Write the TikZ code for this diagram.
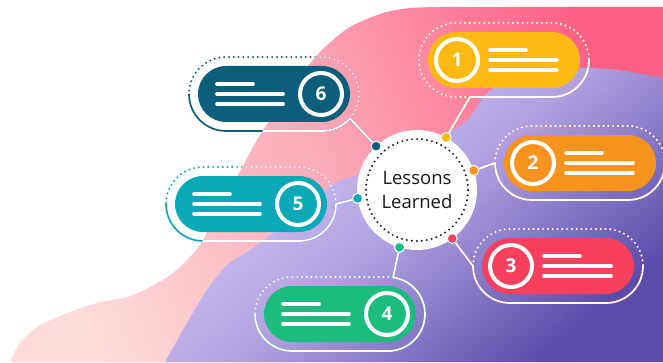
\documentclass[tikz,border=0pt]{standalone}
\usepackage{fontspec}
\setmainfont{Open Sans}
\usepackage{tikz}
\usetikzlibrary{calc,positioning,shapes.misc}

\definecolor{lessonA}{HTML}{FDB913}
\definecolor{lessonB}{HTML}{F7931E}
\definecolor{lessonC}{HTML}{F7405E}
\definecolor{lessonD}{HTML}{1CBC7F}
\definecolor{lessonE}{HTML}{0BA8B8}
\definecolor{lessonF}{HTML}{0C5E7B}
\definecolor{pinkpale}{HTML}{FDDCDB}
\definecolor{pinkmid}{HTML}{FBA9B8}
\definecolor{pinkdeep}{HTML}{FF5F86}
\definecolor{lilacpale}{HTML}{DDCCF7}
\definecolor{lilacmid}{HTML}{B1A1E1}
\definecolor{lilacdeep}{HTML}{594CAA}

% backdrop waves (also used to clip the rims)
\newcommand{\pinkwave}{plot[smooth] coordinates {(10,0) (20,19) (37,35) (67,49) (97,59) (127,65) (150,75) (173,89) (190,105) (203,122) (218,152) (232,177) (245,200) (257,222) (273,247) (290,272) (307,295) (325,315) (350,335) (383,349) (410,354) (440,355)} -- (663,355) -- (663,0) -- cycle}
\newcommand{\lilacwave}{plot[smooth] coordinates {(165,0) (187,39) (207,72) (227,97) (250,112) (290,142) (332,177) (355,186) (400,207) (440,225) (467,242) (487,269) (517,285) (567,294) (617,292) (663,284)} -- (663,0) -- cycle}

% rim: coloured on white paper, white on the waves
\newcommand{\rim}[3]{%
	\draw [#2, draw=#1] #3;
	\begin{scope}
		\clip \pinkwave;
		\draw [#2, draw=white] #3;
	\end{scope}
}

\tikzset{
	lesson/.style={
		rounded rectangle,
		fill=#1,
		minimum width=152pt,
		minimum height=56pt,
		inner sep=0pt, outer sep=0pt
	},
	numring/.style={
		circle, draw=white, line width=4pt,
		minimum size=42pt, inner sep=0pt,
		text=white, font=\fontsize{19}{19}\selectfont\bfseries
	},
	pin/.style={
		circle, fill=#1, draw=white, line width=1pt,
		minimum size=10pt, inner sep=0pt
	},
	hub/.style={
		circle, fill=white,
		minimum size=120pt, inner sep=0pt, outer sep=0pt,
		align=center, text=black!90,
		font=\fontsize{18.5}{24}\selectfont
	},
	textline/.style={white, line width=3.6pt, line cap=round},
	rimdots/.style={line width=2.2pt, line cap=round, dash pattern=on 0pt off 4.8pt},
	rimline/.style={line width=1.7pt, line join=round}
}

\begin{document}
\begin{tikzpicture}[x=1pt,y=1pt,
	hubdots/.style={black!90, line width=2.2pt, line cap=round, dash pattern=on 0pt off 5pt}]

	%%% Backdrop
	\fill [white] (0,0) rectangle (663,362);
	\useasboundingbox (0,0) rectangle (663,362);
	\shade [bottom color=pinkpale, top color=pinkdeep, middle color=pinkmid, shading angle=-70] \pinkwave;
	\shade [top color=lilacpale, bottom color=lilacdeep, middle color=lilacmid, shading angle=40] \lilacwave;

	%%% Hub
	\node at (417,172) [hub] (hub) {Lessons\\Learned};
	\draw [hubdots] (hub.center) circle [radius=51];

	%% Pins on the hub
	\node at (hub.61) [pin=lessonA] (pin1) {};
	\node at (hub.19) [pin=lessonB] (pin2) {};
	\node at (hub.-54) [pin=lessonC] (pin3) {};
	\node at (hub.253) [pin=lessonD] (pin4) {};
	\node at (hub.188) [pin=lessonE] (pin5) {};
	\node at (hub.133) [pin=lessonF] (pin6) {};

	%%% Lessons
	%% Right hand side
	\node at (504,302) [lesson=lessonA] (lesson1) {};
	\node at (580,199) [lesson=lessonB] (lesson2) {};
	\node at (558,96) [lesson=lessonC] (lesson3) {};
	\node at ([xshift=29pt]lesson1.west) [numring] (ring1) {1};
	\node at ([xshift=29pt]lesson2.west) [numring] (ring2) {2};
	\node at ([xshift=29pt]lesson3.west) [numring] (ring3) {3};

	%% Left hand side
	\node at (340,48) [lesson=lessonD] (lesson4) {};
	\node at (251,158) [lesson=lessonE] (lesson5) {};
	\node at (274,268) [lesson=lessonF] (lesson6) {};
	\node at ([xshift=-29pt]lesson4.east) [numring] (ring4) {4};
	\node at ([xshift=-29pt]lesson5.east) [numring] (ring5) {5};
	\node at ([xshift=-29pt]lesson6.east) [numring] (ring6) {6};

	%% Text stubs
	\foreach \n in {1,2,3} {
		\draw [textline] ([shift={(62,10)}]lesson\n.west) -- ++(36,0);
		\draw [textline] ([shift={(62,0)}]lesson\n.west) -- ++(67,0);
		\draw [textline] ([shift={(62,-10)}]lesson\n.west) -- ++(67,0);
	}
	\foreach \n in {4,5,6} {
		\draw [textline] ([shift={(19,10)}]lesson\n.west) -- ++(36,0);
		\draw [textline] ([shift={(19,0)}]lesson\n.west) -- ++(66,0);
		\draw [textline] ([shift={(19,-10)}]lesson\n.west) -- ++(66,0);
	}

	%%% Rims and connections
	\coordinate (tie1) at (470,265);
	\coordinate (tie2) at (495,199);
	\coordinate (tie3) at (473,96);
	\coordinate (tie4) at (393.1,84.6);
	\coordinate (tie5) at (336,158);
	\coordinate (tie6) at (349.9,243.7);

	\rim{lessonA}{rimdots}{(tie1) -- (456,265) arc [start angle=270, end angle=90, radius=37] -- (552,339) arc [start angle=90, end angle=0, radius=37]}
	\rim{lessonA}{rimline}{(pin1) -- (tie1) -- (552,265) arc [start angle=-90, end angle=0, radius=37]}

	\rim{lessonB}{rimdots}{(tie2) arc [start angle=180, end angle=90, radius=37] -- (628,236) arc [start angle=90, end angle=0, radius=37]}
	\rim{lessonB}{rimline}{(pin2) -- (tie2) arc [start angle=180, end angle=270, radius=37] -- (628,162) arc [start angle=270, end angle=360, radius=37]}

	\rim{lessonC}{rimdots}{(tie3) arc [start angle=180, end angle=90, radius=37] -- (606,133) arc [start angle=90, end angle=0, radius=37]}
	\rim{lessonC}{rimline}{(pin3) -- (tie3) arc [start angle=180, end angle=270, radius=37] -- (606,59) arc [start angle=270, end angle=360, radius=37]}

	\rim{lessonD}{rimdots}{(tie4) arc [start angle=82, end angle=90, radius=37] -- (292,85) arc [start angle=90, end angle=180, radius=37]}
	\rim{lessonD}{rimline}{(pin4) -- (tie4) arc [start angle=82, end angle=-90, radius=37] -- (292,11) arc [start angle=270, end angle=180, radius=37]}

	\rim{lessonE}{rimdots}{(tie5) arc [start angle=0, end angle=90, radius=37] -- (203,195) arc [start angle=90, end angle=180, radius=37]}
	\rim{lessonE}{rimline}{(pin5) -- (tie5) arc [start angle=0, end angle=-90, radius=37] -- (203,121) arc [start angle=270, end angle=180, radius=37]}

	\rim{lessonF}{rimdots}{(tie6) arc [start angle=-41, end angle=90, radius=37] -- (226,305) arc [start angle=90, end angle=180, radius=37]}
	\rim{lessonF}{rimline}{(pin6) -- (tie6) arc [start angle=-41, end angle=-90, radius=37] -- (226,231) arc [start angle=270, end angle=180, radius=37]}
\end{tikzpicture}
\end{document}
